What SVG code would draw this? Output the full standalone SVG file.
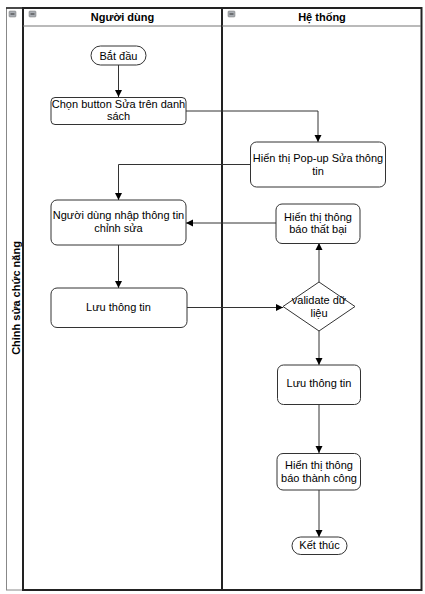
<svg xmlns="http://www.w3.org/2000/svg" width="425" height="594" viewBox="0 0 425 594">
<style>
text{font-family:"Liberation Sans",Arial,sans-serif;font-size:11px;fill:#000;text-anchor:middle}
.hdr{font-weight:bold}
.node{fill:#fff;stroke:#333;stroke-width:1}
.lane{fill:none;stroke:#222;stroke-width:2}
.edge{fill:none;stroke:#333;stroke-width:1}
.ico{fill:#a9adb3;stroke:#777;stroke-width:0.5}
.icol{stroke:#333;stroke-width:1}
</style>
<defs>
<marker id="arr" markerWidth="8" markerHeight="8" refX="7" refY="4" orient="auto" markerUnits="userSpaceOnUse">
<path d="M0,0.5 L7,4 L0,7.5 Z" fill="#000"/>
</marker>
</defs>
<rect width="425" height="594" fill="#fff"/>
<g id="pool">
<rect x="6.5" y="8" width="415" height="582" fill="#fff" stroke="#888" stroke-width="1"/>
<line x1="23" y1="8" x2="23" y2="590" stroke="#222" stroke-width="2"/>
<line x1="6" y1="8" x2="422" y2="8" stroke="#222" stroke-width="1.5"/>
<rect class="ico" x="9" y="11" width="7" height="6" rx="1"/>
<line class="icol" x1="10.5" y1="14" x2="14.5" y2="14"/>
<text class="hdr" transform="translate(20,298) rotate(-90)">Chỉnh sửa chức năng</text>
</g>
<g id="lane-nguoidung">
<rect class="lane" x="23" y="8" width="199" height="582"/>
<line x1="23" y1="26" x2="222" y2="26" stroke="#777" stroke-width="1.2"/>
<rect class="ico" x="29" y="11" width="7" height="6" rx="1"/>
<line class="icol" x1="30.5" y1="14" x2="34.5" y2="14"/>
<text class="hdr" x="122.5" y="21">Người dùng</text>
</g>
<g id="lane-hethong">
<rect class="lane" x="222" y="8" width="199.5" height="582"/>
<line x1="222" y1="26" x2="421" y2="26" stroke="#777" stroke-width="1.2"/>
<rect class="ico" x="228" y="11" width="7" height="6" rx="1"/>
<line class="icol" x1="229.5" y1="14" x2="233.5" y2="14"/>
<text class="hdr" x="322" y="21">Hệ thống</text>
</g>
<g id="connectors">
<path class="edge" d="M118.5,65 L118.5,97" marker-end="url(#arr)"/>
<path class="edge" d="M186,111 L318,111 L318,142" marker-end="url(#arr)"/>
<path class="edge" d="M250,164.5 L118.5,164.5 L118.5,200" marker-end="url(#arr)"/>
<path class="edge" d="M276,223 L186,223" marker-end="url(#arr)"/>
<path class="edge" d="M118.5,245 L118.5,288" marker-end="url(#arr)"/>
<path class="edge" d="M187,307.5 L283,307.5" marker-end="url(#arr)"/>
<path class="edge" d="M319,282 L319,243" marker-end="url(#arr)"/>
<path class="edge" d="M319,331 L319,365" marker-end="url(#arr)"/>
<path class="edge" d="M319,404 L319,453" marker-end="url(#arr)"/>
<path class="edge" d="M319,490 L319,537" marker-end="url(#arr)"/>
</g>
<g id="start">
<rect class="node" x="91" y="46" width="55" height="19" rx="9.5"/>
<text x="118.5" y="60">Bắt đầu</text>
</g>
<g id="chon-button">
<rect class="node" x="51" y="97.5" width="135" height="27" rx="4"/>
<text x="118.5" y="108">Chọn button Sửa trên danh</text>
<text x="118.5" y="120">sách</text>
</g>
<g id="popup">
<rect class="node" x="250.5" y="142" width="135" height="45" rx="6"/>
<text x="318" y="162">Hiển thị Pop-up Sửa thông</text>
<text x="318" y="174.5">tin</text>
</g>
<g id="nhap-thong-tin">
<rect class="node" x="51" y="200" width="135" height="45" rx="6"/>
<text x="118.5" y="219">Người dùng nhập thông tin</text>
<text x="118.5" y="231.5">chỉnh sửa</text>
</g>
<g id="that-bai">
<rect class="node" x="276" y="204" width="84" height="39.5" rx="6"/>
<text x="318" y="220.5">Hiển thị thông</text>
<text x="318" y="233">báo thất bại</text>
</g>
<g id="luu-user">
<rect class="node" x="51" y="288" width="136" height="39.5" rx="6"/>
<text x="118.5" y="311">Lưu thông tin</text>
</g>
<g id="validate">
<path class="node" d="M319,282 L355,306.5 L319,331 L283,306.5 Z"/>
<text x="319" y="304">validate dữ</text>
<text x="319" y="316.5">liệu</text>
</g>
<g id="luu-system">
<rect class="node" x="277.5" y="365" width="83" height="39.5" rx="6"/>
<text x="319" y="387">Lưu thông tin</text>
</g>
<g id="thanh-cong">
<rect class="node" x="277" y="453.5" width="83.5" height="36.5" rx="6"/>
<text x="319" y="469">Hiển thị thông</text>
<text x="319" y="482">báo thành công</text>
</g>
<g id="end">
<rect class="node" x="292" y="537" width="55" height="17.5" rx="8.75"/>
<text x="319.5" y="548.5">Kết thúc</text>
</g>
</svg>
